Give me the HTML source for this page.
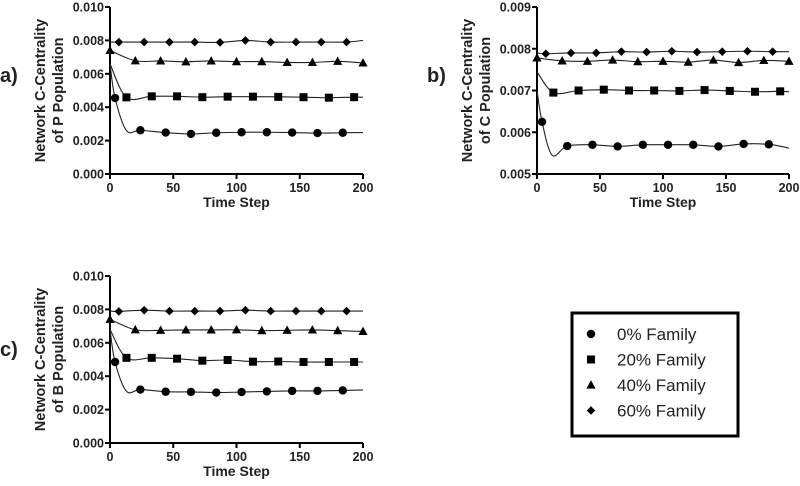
<!DOCTYPE html>
<html><head><meta charset="utf-8"><style>
body{margin:0;background:#fff;}
svg{display:block;font-family:"Liberation Sans",Arial,sans-serif;}
</style></head><body>
<svg id="c" width="800" height="486"></svg>
<script>
const timeTicks=[0,50,100,150,200];
const yTicksA=[0.000,0.002,0.004,0.006,0.008,0.010];
const yTicksB=[0.005,0.006,0.007,0.008,0.009];
const seriesNames=["0% Family","20% Family","40% Family","60%  Family"];
// panel a
const aT0=[0,4,13,24,44,64,84,104,124,144,164,184,200];
const aV0=[.0066,.00455,.0026,.00262,.00248,.0024,.00247,.0025,.0025,.00248,.00245,.00247,.00248];
const aT1=[0,13,33,53,73,93,113,133,153,173,193,200];
const aV1=[.0066,.00459,.00465,.00465,.0046,.00463,.00463,.00462,.0046,.00457,.0046,.0046];
const aT2=[0,20,40,60,80,100,120,140,160,180,200];
const aV2=[.0074,.00678,.00677,.00672,.00677,.00673,.00673,.00668,.00668,.00675,.00665];
const aT3=[0,7,27,47,67,87,107,127,147,167,187,200];
const aV3=[.0079,.0079,.0079,.0079,.0079,.00788,.008,.0079,.0079,.0079,.0079,.008];
// panel b
const bT0=[0,4,12,24,44,64,84,104,124,144,164,184,200];
const bV0=[.0070,.00625,.00545,.00567,.0057,.00566,.0057,.0057,.0057,.00566,.00572,.00571,.00562];
const bT1=[0,13,33,53,73,93,113,133,153,173,193,200];
const bV1=[.00745,.00695,.0070,.00702,.007,.007,.00699,.00701,.00699,.00697,.00698,.00697];
const bT2=[0,20,40,60,80,100,120,140,160,180,200];
const bV2=[.00778,.00771,.0077,.00773,.00769,.0077,.00768,.00773,.00767,.00772,.0077];
const bT3=[0,7,27,47,67,87,107,127,147,167,187,200];
const bV3=[.0079,.00788,.0079,.0079,.00793,.00792,.00794,.00792,.00793,.00794,.00793,.00793];
// panel c
const cT0=[0,4,13,24,44,64,84,104,124,144,164,184,200];
const cV0=[.0068,.00485,.0031,.0032,.00307,.00306,.00302,.00305,.00309,.00312,.00312,.00315,.00318];
const cT1=[0,13,33,53,73,93,113,133,153,173,193,200];
const cV1=[.0068,.0051,.0051,.00505,.00493,.00497,.00487,.00488,.00485,.00485,.00485,.00485];
const cT2=[0,20,40,60,80,100,120,140,160,180,200];
const cV2=[.0074,.00678,.00675,.00677,.00677,.00678,.00673,.00675,.00677,.00673,.00668];
const cT3=[0,7,27,47,67,87,107,127,147,167,187,200];
const cV3=[.0079,.00788,.00795,.0079,.0079,.0079,.00795,.0079,.0079,.0079,.0079,.0079];

const NS="http://www.w3.org/2000/svg";
const svg=document.getElementById('c');
function mk(tag,attrs,parent,text){const e=document.createElementNS(NS,tag);for(const k in attrs)e.setAttribute(k,attrs[k]);if(text!==undefined)e.textContent=text;(parent||svg).appendChild(e);return e;}

function marker(g,kind,x,y){
  let e;
  if(kind===0)e=mk('circle',{cx:x,cy:y,r:4.2,fill:'#000'},g);
  else if(kind===1)e=mk('rect',{x:x-4,y:y-4,width:8,height:8,fill:'#000'},g);
  else if(kind===2)e=mk('polygon',{points:`${x},${y-4.8} ${x+4.6},${y+3.6} ${x-4.6},${y+3.6}`,fill:'#000'},g);
  else e=mk('polygon',{points:`${x},${y-4.3} ${x+4.3},${y} ${x},${y+4.3} ${x-4.3},${y}`,fill:'#000'},g);
  return e;
}
function smooth(pts){
  let d=`M${pts[0][0]},${pts[0][1]}`;
  for(let i=0;i<pts.length-1;i++){
    const p0=pts[Math.max(0,i-1)],p1=pts[i],p2=pts[i+1],p3=pts[Math.min(pts.length-1,i+2)];
    const c1=[p1[0]+(p2[0]-p0[0])/6,p1[1]+(p2[1]-p0[1])/6];
    const c2=[p2[0]-(p3[0]-p1[0])/6,p2[1]-(p3[1]-p1[1])/6];
    d+=` C${c1[0]},${c1[1]} ${c2[0]},${c2[1]} ${p2[0]},${p2[1]}`;
  }
  return d;
}
// marker rule per series: [first marker index, index to skip (dip), last marker drawn?]
const markRules=[[1,2,false],[1,-1,false],[0,-1,true],[1,-1,false]];
function panel(name,label,x0,x1,yTop,yBot,yTicks,title,series,labelPos){
  const g=mk('g',{},svg);
  
  
  const ymin=yTicks[0],ymax=yTicks[yTicks.length-1];
  const sx=t=>x0+(t-0)/200*(x1-x0);
  const sy=v=>yBot-(v-ymin)/(ymax-ymin)*(yBot-yTop);
  const ax=mk('path',{d:`M${x0},${yTop} V${yBot} H${x1}`,stroke:'#000','stroke-width':2,fill:'none'},g);
  
  
  yTicks.forEach(v=>{
    mk('line',{x1:x0-5,x2:x0,y1:sy(v),y2:sy(v),stroke:'#000','stroke-width':2},g);
    const t=mk('text',{x:x0-6,y:sy(v)+4.5,'text-anchor':'end','font-size':12.5,'font-weight':'bold',fill:'#222'},g,v.toFixed(3));
    
    
  });
  timeTicks.forEach(v=>{
    mk('line',{x1:sx(v),x2:sx(v),y1:yBot,y2:yBot+5,stroke:'#000','stroke-width':2},g);
    const t=mk('text',{x:sx(v),y:yBot+18,'text-anchor':'middle','font-size':12.5,'font-weight':'bold',fill:'#222'},g,String(v));
    
    
  });
  const xt=mk('text',{x:(x0+x1)/2,y:yBot+33,'text-anchor':'middle','font-size':14,'font-weight':'bold',fill:'#222'},g,'Time Step');
  
  
  const cy=(yTop+yBot)/2;
  const yt=mk('text',{transform:`translate(${x0-65},${cy}) rotate(-90)`,'text-anchor':'middle','font-size':14.5,'font-weight':'bold',fill:'#222'},g);
  
  
  mk('tspan',{x:0,dy:0},yt,'Network C-Centrality');
  mk('tspan',{x:0,dy:18},yt,title);
  const pl=mk('text',{x:labelPos[0],y:labelPos[1],'font-size':20,'font-weight':'bold',fill:'#222'},g,label);
  
  
  series.forEach((s,k)=>{
    const [T,V]=s;
    const [first,skip,last]=markRules[k];
    const pts=T.map((t,i)=>[sx(t),sy(V[i])]);
    const p=mk('path',{d:smooth(pts),stroke:'#222','stroke-width':1.1,fill:'none'},g);
    
    
    const end=last?T.length:T.length-1;
    for(let i=first;i<end;i++){
      if(i===skip)continue;
      const m=marker(g,k,pts[i][0],pts[i][1]);
      
      
    }
  });
}
panel('panel-a','a)',110,363,7,174,yTicksA,'of P Population',[[aT0,aV0],[aT1,aV1],[aT2,aV2],[aT3,aV3]],[0,82]);
panel('panel-b','b)',537,789,7,174,yTicksB,'of C Population',[[bT0,bV0],[bT1,bV1],[bT2,bV2],[bT3,bV3]],[427,82]);
panel('panel-c','c)',110,363,276,443,yTicksA,'of B Population',[[cT0,cV0],[cT1,cV1],[cT2,cV2],[cT3,cV3]],[0,356]);

const lg=mk('g',{},svg);


mk('rect',{x:572,y:313,width:166,height:123,fill:'#fff',stroke:'#000','stroke-width':3},lg);
seriesNames.forEach((n,k)=>{
  const y=334+k*25.5;
  const m=marker(lg,k,591,y);
  
  
  const t=mk('text',{x:617,y:y+6,'font-size':17,fill:'#222'},lg,n);
  
  
});
</script>
</body></html>
